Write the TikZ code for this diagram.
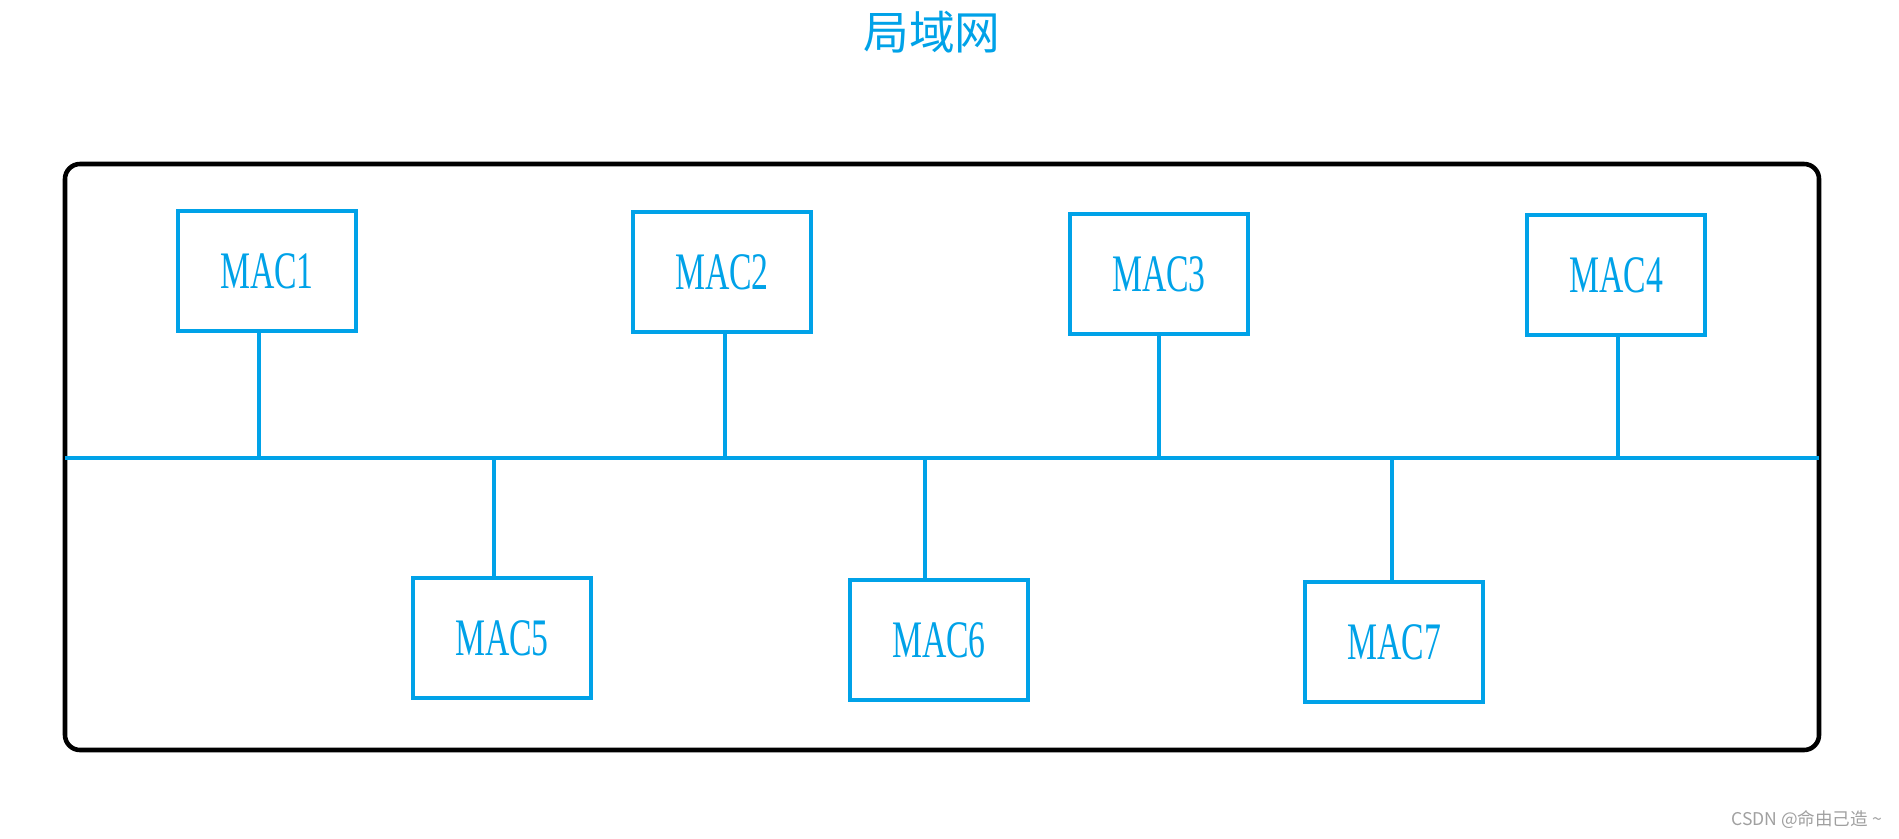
\documentclass[tikz,border=0pt]{standalone}
\usepackage{fontspec}
\usepackage{tikz}
\usetikzlibrary{positioning}
\newfontfamily\cjk{Noto Sans CJK SC}
\newfontfamily\macfont[FakeStretch=0.64]{Liberation Serif}
\definecolor{lanblue}{RGB}{0,162,232}
\definecolor{markgray}{RGB}{160,160,160}

\begin{document}
\begin{tikzpicture}[x=0.02cm,y=-0.02cm,
  host/.style={draw=lanblue,line width=2.6pt,minimum width=3.56cm,minimum height=2.4cm,
    inner sep=0pt,text=lanblue,font=\macfont\fontsize{30}{32}\selectfont},
  wire/.style={draw=lanblue,line width=2.6pt}]
\useasboundingbox (0,0) rectangle (1899,838);
\node[text=lanblue,font=\cjk\fontsize{26}{28}\selectfont] (title) at (932,32) {局域网};
\draw[line width=2.6pt,rounded corners=0.3cm] (65,164) rectangle (1819,750);
\coordinate (busl) at (65,458);
\coordinate (busr) at (1819,458);
\draw[wire] (busl) -- (busr);
\node[host] (m1) at (267,271) {MAC1};
\node[host] (m2) at (722,272) {MAC2};
\node[host] (m3) at (1159,274) {MAC3};
\node[host] (m4) at (1616,275) {MAC4};
\node[host] (m5) at (502,638) {MAC5};
\node[host] (m6) at (939,640) {MAC6};
\node[host] (m7) at (1394,642) {MAC7};
\coordinate (t1) at (259,458);
\coordinate (t2) at (725,458);
\coordinate (t3) at (1159,458);
\coordinate (t4) at (1618,458);
\coordinate (t5) at (494,458);
\coordinate (t6) at (925,458);
\coordinate (t7) at (1392,458);
\draw[wire]
(t1) -- (t1 |- m1.south)
(t2) -- (t2 |- m2.south)
(t3) -- (t3 |- m3.south)
(t4) -- (t4 |- m4.south)
(t5) -- (t5 |- m5.north)
(t6) -- (t6 |- m6.north)
(t7) -- (t7 |- m7.north);
\node[text=markgray,font=\cjk\fontsize{10}{11}\selectfont,anchor=east] (mark) at (1888,820) {CSDN @命由己造 \textasciitilde};
\end{tikzpicture}
\end{document}
